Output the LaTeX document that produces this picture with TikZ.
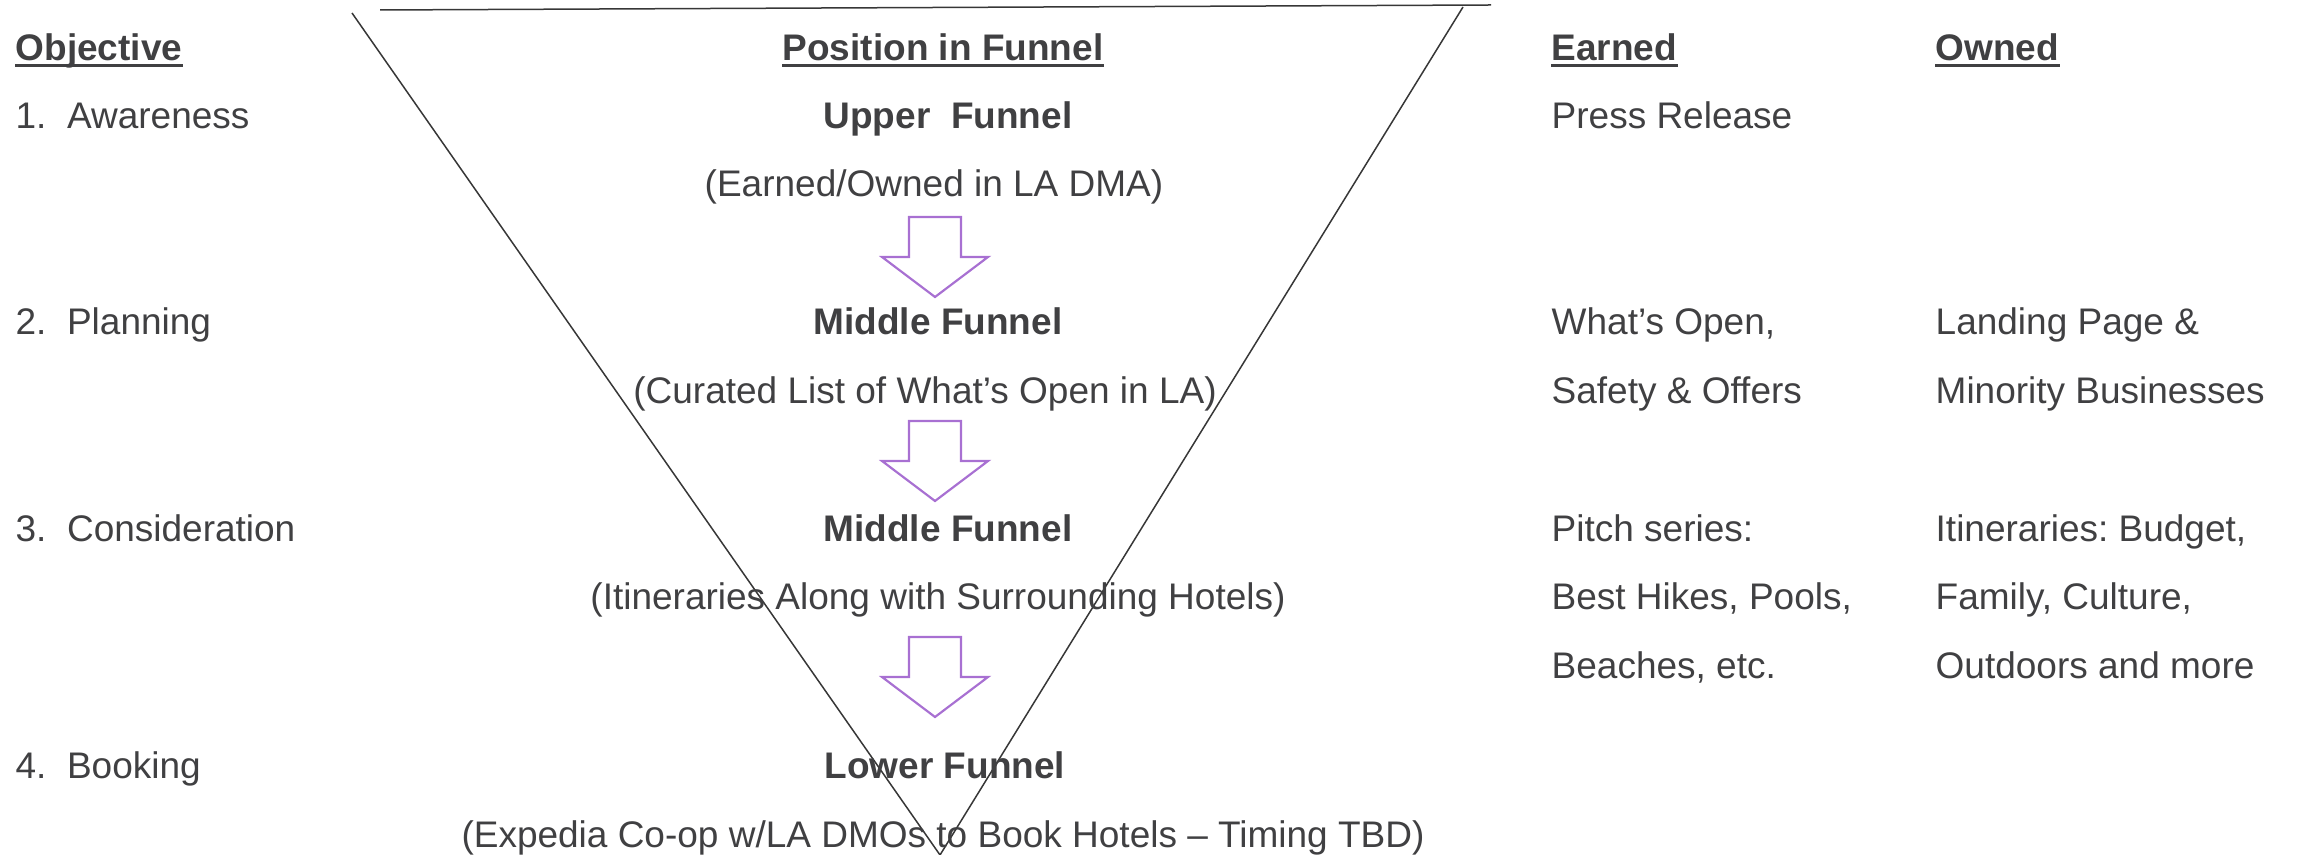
\documentclass[tikz,border=0pt]{standalone}
\usepackage{fontspec}
\setmainfont{Liberation Sans}
\usepackage{xcolor}
\usepackage{tikz}
\frenchspacing

\definecolor{txtgray}{RGB}{64,64,66}
\definecolor{arrpurple}{RGB}{168,112,210}
\definecolor{funnelgray}{RGB}{55,55,55}

\tikzset{
  downarr/.pic={
    \draw[arrpurple, line width=0.65pt, line join=miter]
      (-26,0) -- (26,0) -- (26,40) -- (53,40) -- (0,80) -- (-53,40) -- (-26,40) -- cycle;
  }
}

\begin{document}
\begin{tikzpicture}[x=0.3pt, y=-0.3pt,
    every node/.style={inner sep=0pt, text=txtgray, font=\fontsize{11.1}{13.3}\selectfont},
    lft/.style={anchor=base west},
    ctr/.style={anchor=base},
    hd/.style={font=\fontsize{11.1}{13.3}\selectfont\bfseries},
    uline/.style={draw=txtgray, line width=0.9pt},
    funnel/.style={draw=funnelgray, line width=0.45pt}]
    \useasboundingbox (0,0) rectangle (2297,855);

    % funnel outline
    \coordinate (ftl) at (352,13);
    \coordinate (ftr) at (1463,7);
    \coordinate (fapex) at (940,855);
    \coordinate (topl) at (380,10);
    \coordinate (topr) at (1491,5);
    \draw[funnel] (topl) -- (topr);
    \draw[funnel] (ftl) -- (fapex) -- (ftr);

    % headings
    \node[lft, hd] (hobj) at (15,61) {Objective};
    \node[ctr, hd] (hpos) at (943,61) {Position in Funnel};
    \node[lft, hd] (hearn) at (1551,61) {Earned};
    \node[lft, hd] (hown) at (1935,61) {Owned};
    \draw[uline] ([yshift=-1.4pt]hobj.base west) -- ([yshift=-1.4pt]hobj.base east);
    \draw[uline] ([yshift=-1.4pt]hpos.base west) -- ([yshift=-1.4pt]hpos.base east);
    \draw[uline] ([yshift=-1.4pt]hearn.base west) -- ([yshift=-1.4pt]hearn.base east);
    \draw[uline] ([yshift=-1.4pt]hown.base west) -- ([yshift=-1.4pt]hown.base east);

    % objectives
    \node[lft] (obj1) at (15,129) {1.~~Awareness};
    \node[lft] (obj2) at (15,335) {2.~~Planning};
    \node[lft] (obj3) at (15,542) {3.~~Consideration};
    \node[lft] (obj4) at (15,779) {4.~~Booking};

    % position in funnel
    \node[ctr, hd] (upper) at (948,129) {Upper~~Funnel};
    \node[ctr] (upperd) at (934,197) {(Earned/Owned in LA DMA)};
    \node[ctr, hd] (midA) at (938,335) {Middle Funnel};
    \node[ctr] (midAd) at (925,404) {(Curated List of What’s Open in LA)};
    \node[ctr, hd] (midB) at (948,542) {Middle Funnel};
    \node[ctr] (midBd) at (938,610) {(Itineraries Along with Surrounding Hotels)};
    \node[ctr, hd] (lower) at (945,779) {Lower Funnel};
    \node[ctr] (lowerd) at (943,848) {(Expedia Co-op w/LA DMOs to Book Hotels – Timing TBD)};

    \pic at (935,217) {downarr};
    \pic at (935,421) {downarr};
    \pic at (935,637) {downarr};

    % earned
    \node[lft] (earn1) at (1551,129) {Press Release};
    \node[lft] (earn2) at (1551,335) {What’s Open,};
    \node[lft] (earn2b) at (1551,404) {Safety \& Offers};
    \node[lft] (earn3) at (1551,542) {Pitch series:};
    \node[lft] (earn3b) at (1551,610) {Best Hikes, Pools,};
    \node[lft] (earn3c) at (1551,679) {Beaches, etc.};

    % owned
    \node[lft] (own2) at (1935,335) {Landing Page \&};
    \node[lft] (own2b) at (1935,404) {Minority Businesses};
    \node[lft] (own3) at (1935,542) {Itineraries: Budget,};
    \node[lft] (own3b) at (1935,610) {Family, Culture,};
    \node[lft] (own3c) at (1935,679) {Outdoors and more};
\end{tikzpicture}
\end{document}
